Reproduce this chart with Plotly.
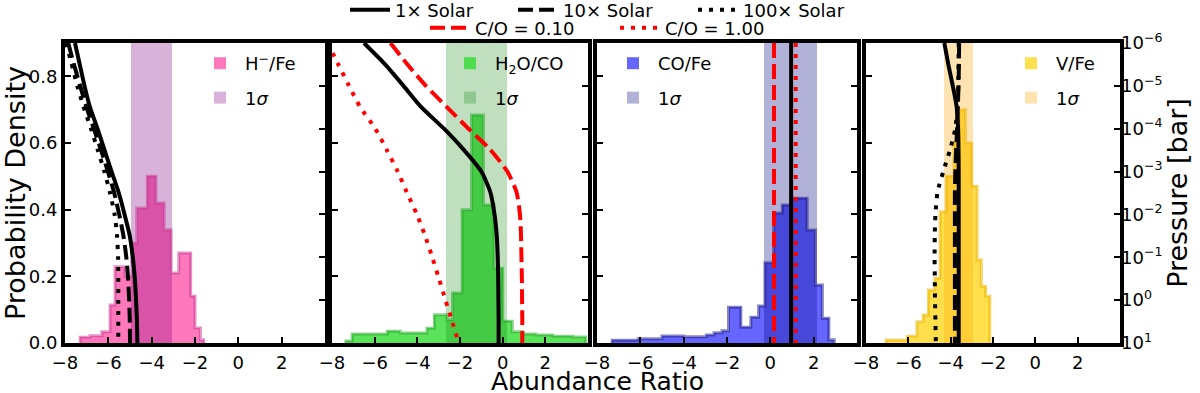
import plotly.graph_objects as go

# ---- data ------------------------------------------------------------------
X_TICKS = [-8, -6, -4, -2, 0, 2]
PROB_TICKS = [0.0, 0.2, 0.4, 0.6, 0.8]
P_TICKS = [1e-6, 1e-5, 1e-4, 1e-3, 1e-2, 1e-1, 1e0, 1e1]
P_LABELS = ["10<sup>\u22126</sup>", "10<sup>\u22125</sup>", "10<sup>\u22124</sup>",
            "10<sup>\u22123</sup>", "10<sup>\u22122</sup>", "10<sup>\u22121</sup>",
            "10<sup>0</sup>", "10<sup>1</sup>"]

# pressure grid (bar) for the model abundance profiles
PRESSURE = [1e-6, 3e-6, 1e-5, 3e-5, 1e-4, 3e-4, 1e-3, 3e-3,
            1e-2, 3e-2, 1e-1, 3e-1, 1.0, 3.0, 10.0]

# H-/Fe
HM_EDGES = [-7.3, -6.85, -6.3, -5.92, -5.69, -5.23, -4.92, -4.69, -4.2, -3.8,
            -3.42, -3.1, -2.75, -2.2, -2.0, -1.75, -1.6]
HM_DENS = [0.017, 0.022, 0.034, 0.114, 0.229, 0.2, 0.3, 0.405, 0.50, 0.42,
           0.34, 0.21, 0.27, 0.14, 0.045, 0.01]
HM_SIGMA = [-4.95, -3.05]
HM_1X = [-7.54, -7.33, -7.1, -6.86, -6.5, -6.19, -5.85, -5.53, -5.25, -5.02,
         -4.87, -4.78, -4.72, -4.68, -4.66]
HM_10X = [-7.85, -7.6, -7.3, -7.02, -6.67, -6.35, -6.02, -5.74, -5.5, -5.31,
          -5.17, -5.09, -5.04, -5.01, -5.0]
HM_100X = [-7.95, -7.7, -7.43, -7.15, -6.8, -6.5, -6.18, -5.93, -5.71, -5.6,
           -5.55, -5.54, -5.54, -5.54, -5.54]

# H2O/CO
H2O_EDGES = [-7.35, -7.05, -5.4, -4.8, -3.55, -3.2, -2.6, -2.35, -1.9, -1.46,
             -0.9, -0.4, 0.0, 0.45, 0.95, 1.55, 2.35, 3.3, 3.9]
H2O_DENS = [0.006, 0.027, 0.035, 0.03, 0.044, 0.085, 0.07, 0.15, 0.40, 0.684,
            0.414, 0.224, 0.065, 0.034, 0.027, 0.024, 0.02, 0.018]
H2O_SIGMA = [-2.65, 0.2]
H2O_1X = [-6.5, -5.55, -4.65, -3.85, -2.75, -1.85, -1.0, -0.58, -0.38, -0.28,
          -0.23, -0.21, -0.2, -0.19, -0.19]
H2O_CO010 = [-5.26, -4.5, -3.6, -2.65, -1.6, -0.6, 0.22, 0.65, 0.81, 0.86,
             0.88, 0.9, 0.91, 0.92, 0.92]
H2O_CO100 = [-8.2, -7.73, -7.2, -6.7, -5.97, -5.45, -4.92, -4.5, -4.02, -3.65,
             -3.3, -3.0, -2.68, -2.38, -2.06]

# CO/Fe
CO_EDGES = [-7.3, -6.1, -5.0, -4.0, -2.95, -2.6, -2.23, -1.93, -1.36, -0.9,
            -0.54, -0.25, 0.15, 0.55, 0.95, 1.7, 2.08, 2.4, 2.7, 2.95]
CO_DENS = [0.008, 0.013, 0.021, 0.019, 0.024, 0.031, 0.037, 0.107, 0.047, 0.077,
           0.111, 0.241, 0.39, 0.414, 0.434, 0.339, 0.174, 0.074, 0.01]
CO_SIGMA = [-0.3, 2.15]
CO_P = [1e-6, 10.0]
CO_1X = [0.96, 0.96]
CO_CO010 = [0.17, 0.17]
CO_CO100 = [1.17, 1.17]

# V/Fe
V_EDGES = [-7.05, -6.05, -5.6, -5.3, -5.05, -4.75, -4.5, -4.2, -3.85, -3.6,
           -3.3, -3.0, -2.75, -2.55, -2.35, -2.15]
V_DENS = [0.009, 0.02, 0.064, 0.084, 0.159, 0.194, 0.394, 0.5, 0.6, 0.70,
          0.6, 0.47, 0.25, 0.17, 0.14]
V_SIGMA = [-4.3, -2.95]
V_1X = [-4.3, -4.12, -3.9, -3.72, -3.65, -3.63, -3.62, -3.62, -3.62, -3.62,
        -3.62, -3.62, -3.62, -3.62, -3.62]
V_10X = [-3.6, -3.61, -3.63, -3.66, -3.7, -3.74, -3.78, -3.8, -3.8, -3.8,
         -3.8, -3.8, -3.8, -3.8, -3.8]
V_100X = [-3.62, -3.63, -3.64, -3.68, -3.78, -4.02, -4.35, -4.62, -4.72, -4.75,
          -4.76, -4.75, -4.74, -4.72, -4.7]

# ---- figure -----------------------------------------------------------------
FONT = "DejaVu Sans"
W, H = 1200, 393
ML, MR, MT, MB = 65, 80, 43, 50
PW = W - ML - MR
PANELS_PX = [(65, 325), (332, 588), (597, 857), (866, 1120)]


def px_x(px):
    return (px - ML) / PW


def px_y(py):
    return (H - MB - py) / (H - MT - MB)


fig = go.Figure()


def add_hist(i, edges, dens, sigma, fill, edge, band, name, leg):
    xa = "x" if i == 1 else "x%d" % i
    ya = "y" if i == 1 else "y%d" % (2 * i - 1)
    centers = [(a + b) / 2 for a, b in zip(edges[:-1], edges[1:])]
    widths = [b - a for a, b in zip(edges[:-1], edges[1:])]
    fig.add_trace(go.Bar(x=centers, y=dens, width=widths, marker_color=fill,
                         marker_line_width=0, name=name, legend=leg,
                         legendgroup=leg + "a", xaxis=xa, yaxis=ya))
    fig.add_trace(go.Scatter(x=[edges[0]] + edges, y=[0] + dens + [0],
                             mode="lines", line=dict(color=edge, width=3, shape="hv"),
                             showlegend=False, xaxis=xa, yaxis=ya))
    fig.add_trace(go.Bar(x=[(sigma[0] + sigma[1]) / 2], y=[0.9],
                         width=[sigma[1] - sigma[0]], marker_color=band,
                         marker_line_width=0, name="1<i>\u03c3</i>", legend=leg,
                         legendgroup=leg + "b", xaxis=xa, yaxis=ya))


def add_line(i, x, p, color, dash, name=None, leg=None):
    xa = "x" if i == 1 else "x%d" % i
    ya = "y%d" % (2 * i)
    fig.add_trace(go.Scatter(x=x, y=p, mode="lines",
                             line=dict(color=color, width=4, dash=dash, shape="spline",
                                       smoothing=0.6),
                             name=name, showlegend=name is not None,
                             legend=leg if leg else "legend",
                             xaxis=xa, yaxis=ya))


DASH = "15px,6px"
DOT = "4px,7px"

add_hist(1, HM_EDGES, HM_DENS, HM_SIGMA, "rgba(255,105,180,0.9)",
         "rgba(200,60,150,0.55)", "rgba(128,0,128,0.3)", "H<sup>\u2212</sup>/Fe", "legend6")
add_hist(2, H2O_EDGES, H2O_DENS, H2O_SIGMA, "rgba(50,220,50,0.8)",
         "rgba(40,170,40,0.55)", "rgba(0,128,0,0.25)", "H<sub>2</sub>O/CO", "legend7")
add_hist(3, CO_EDGES, CO_DENS, CO_SIGMA, "rgba(0,0,255,0.6)",
         "rgba(30,30,140,0.55)", "rgba(0,0,128,0.3)", "CO/Fe", "legend8")
add_hist(4, V_EDGES, V_DENS, V_SIGMA, "rgba(255,210,0,0.7)",
         "rgba(235,180,0,0.55)", "rgba(255,165,0,0.3)", "V/Fe", "legend9")

add_line(1, HM_1X, PRESSURE, "black", "solid", "1\u00d7 Solar", "legend")
add_line(1, HM_10X, PRESSURE, "black", DASH, "10\u00d7 Solar", "legend2")
add_line(1, HM_100X, PRESSURE, "black", DOT, "100\u00d7 Solar", "legend3")
add_line(2, H2O_1X, PRESSURE, "black", "solid")
add_line(2, H2O_CO010, PRESSURE, "red", DASH, "C/O = 0.10", "legend4")
add_line(2, H2O_CO100, PRESSURE, "red", DOT, "C/O = 1.00", "legend5")
add_line(3, CO_1X, CO_P, "black", "solid")
add_line(3, CO_CO010, CO_P, "red", DASH)
add_line(3, CO_CO100, CO_P, "red", DOT)
add_line(4, V_1X, PRESSURE, "black", "solid")
add_line(4, V_10X, PRESSURE, "black", DASH)
add_line(4, V_100X, PRESSURE, "black", DOT)

tickfont = dict(family=FONT, size=18, color="black")
axis_common = dict(showline=True, linewidth=4, linecolor="black", mirror=True,
                   ticks="inside", ticklen=6, tickwidth=2, tickcolor="black",
                   showgrid=False, zeroline=False, tickfont=tickfont)

layout = {}
for i, (a, b) in enumerate(PANELS_PX, start=1):
    xk = "xaxis" if i == 1 else "xaxis%d" % i
    yk = "yaxis" if i == 1 else "yaxis%d" % (2 * i - 1)
    ya = "y" if i == 1 else "y%d" % (2 * i - 1)
    xa = "x" if i == 1 else "x%d" % i
    layout[xk] = dict(axis_common, domain=[px_x(a), px_x(b)], range=[-8, 4],
                      tickvals=X_TICKS, anchor=ya)
    layout[yk] = dict(axis_common, domain=[0, 1], range=[0, 0.9], anchor=xa,
                      tickvals=PROB_TICKS, tickformat=".1f",
                      showticklabels=(i == 1))
    layout["yaxis%d" % (2 * i)] = dict(
        type="log", range=[1, -6], overlaying=ya, anchor=xa, side="right",
        showline=False, showgrid=False, zeroline=False, ticks="inside",
        ticklen=6, tickwidth=2, tickcolor="black", tickvals=P_TICKS,
        ticktext=P_LABELS, tickfont=tickfont, showticklabels=(i == 4))

layout["yaxis"]["title"] = dict(text="Probability Density", standoff=6,
                                font=dict(family=FONT, size=27, color="black"))
layout["yaxis8"]["title"] = dict(text="Pressure [bar]", standoff=4,
                                 font=dict(family=FONT, size=27, color="black"))

legfont = dict(family=FONT, size=18, color="black")


def main_legend(px, py):
    return dict(x=px_x(px + 3), y=px_y(py), xanchor="left", yanchor="middle",
                orientation="h", font=legfont, bgcolor="rgba(0,0,0,0)",
                itemwidth=40, itemclick=False)


def panel_legend(px):
    return dict(x=px_x(px - 57), y=px_y(45), xanchor="left", yanchor="top",
                font=legfont, bgcolor="rgba(0,0,0,0)", itemwidth=40,
                tracegroupgap=8, traceorder="grouped")


layout["legend"] = main_legend(342, 10)
layout["legend2"] = main_legend(510, 10)
layout["legend3"] = main_legend(690, 10)
layout["legend4"] = main_legend(422, 28)
layout["legend5"] = main_legend(612, 28)
layout["legend6"] = panel_legend(252)
layout["legend7"] = panel_legend(502)
layout["legend8"] = panel_legend(665)
layout["legend9"] = panel_legend(1063)

fig.update_layout(
    width=W, height=H,
    margin=dict(l=ML, r=MR, t=MT, b=MB, autoexpand=False),
    paper_bgcolor="white", plot_bgcolor="white", barmode="overlay",
    bargap=0, font=dict(family=FONT, color="black"),
    annotations=[dict(text="Abundance Ratio", x=px_x(597), y=px_y(381),
                      xref="paper", yref="paper", showarrow=False,
                      xanchor="center", yanchor="middle",
                      font=dict(family=FONT, size=25, color="black"))],
    **layout)

# the page is photographed at exactly the figure size, so drop the body margin
fig.write_html("out.html", config={"displayModeBar": False},
               post_script="document.body.style.margin='0';")
